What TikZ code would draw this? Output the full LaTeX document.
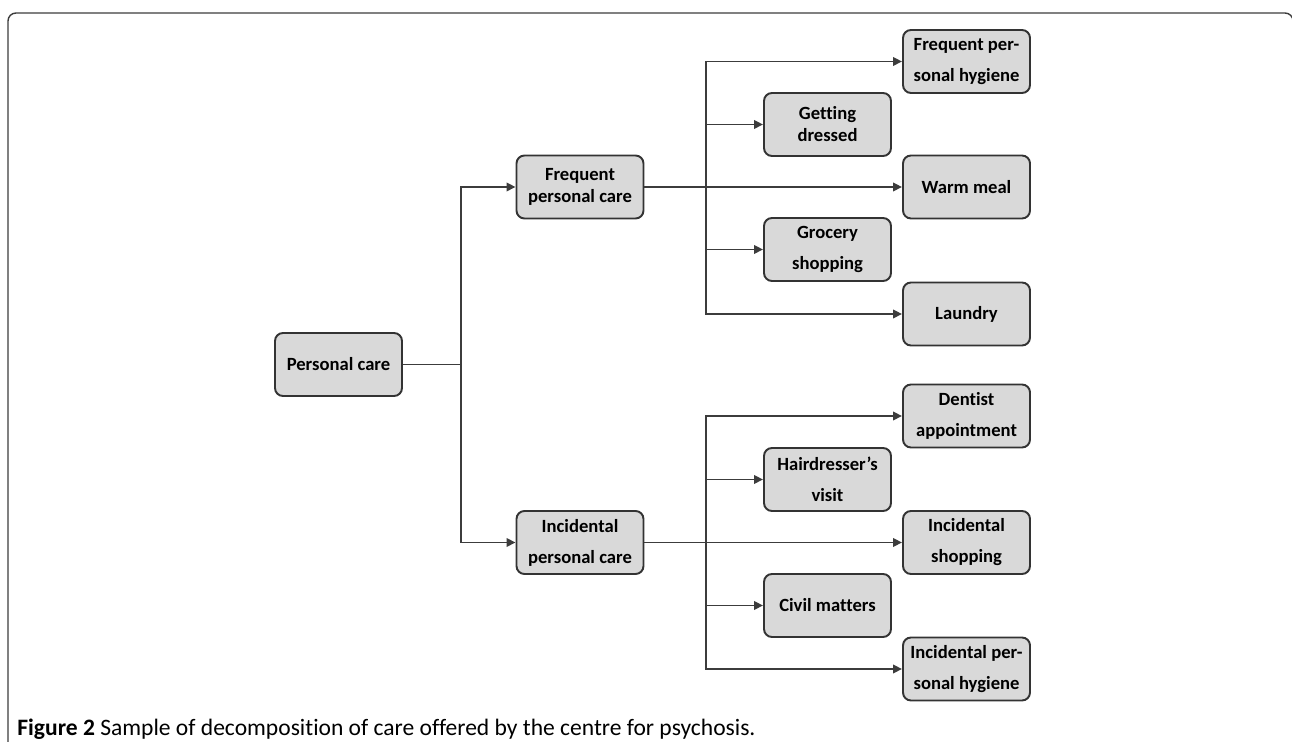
\documentclass[tikz,border=0pt]{standalone}
\usepackage{fontspec}
\setmainfont{Carlito}[Ligatures=NoCommon]
\usepackage{tikz}
\usetikzlibrary{arrows.meta}
\usepackage{color}
\definecolor{boxfill}{HTML}{D9D9D9}
\definecolor{boxline}{HTML}{333333}
\definecolor{linkcolor}{HTML}{3C3C3C}

\begin{document}
\begin{tikzpicture}[
  box/.style={draw=boxline, fill=boxfill, line width=1.1pt, rounded corners=0.16cm,
    minimum width=2.54cm, minimum height=1.26cm, inner sep=0pt, align=center,
    font=\bfseries\fontsize{10.6}{17.6}\selectfont},
  tight/.style={font=\bfseries\fontsize{10.6}{12.5}\selectfont},
  link/.style={line width=1.05pt, color=linkcolor, -{Triangle[length=0.18cm, width=0.17cm]}}
]
\useasboundingbox (0, 0) rectangle (25.84, 14.84);

% frame
\draw [line width=0.8pt, color=linkcolor, rounded corners=0.16cm] (0.16, -0.5) -- (0.16, 14.58) -- (25.86, 14.58) -- (25.86, 0);

% root
\node [box] (pc) at (6.77, 7.55) {Personal care};
\node [box, tight] (fpc) at (11.60, 11.10) {Frequent\\personal care};
\node [box] (ipc) at (11.60, 3.99) {Incidental\\personal care};
\draw [link] (pc.east) -- ++(1.16, 0) |- (fpc.west);
\draw [link] (pc.east) -- ++(1.16, 0) |- (ipc.west);

% frequent care
\node [box] (fph) at (19.33, 13.61) {Frequent per-\\sonal hygiene};
\node [box, tight] (gd) at (16.55, 12.35) {Getting\\dressed};
\node [box] (wm) at (19.33, 11.10) {Warm meal};
\node [box] (gs) at (16.55, 9.85) {Grocery\\shopping};
\node [box] (la) at (19.33, 8.56) {Laundry};
\draw [link] (fpc.east) -- (wm.west);
\draw [link] (fpc.east) -- ++(1.23, 0) |- (fph.west);
\draw [link] (fpc.east) -- ++(1.23, 0) |- (gd.west);
\draw [link] (fpc.east) -- ++(1.23, 0) |- (gs.west);
\draw [link] (fpc.east) -- ++(1.23, 0) |- (la.west);

% incidental care
\node [box] (da) at (19.33, 6.52) {Dentist\\appointment};
\node [box] (hv) at (16.55, 5.25) {Hairdresser’s\\visit};
\node [box] (is) at (19.33, 3.99) {Incidental\\shopping};
\node [box] (cm) at (16.55, 2.73) {Civil matters};
\node [box] (iph) at (19.33, 1.46) {Incidental per-\\sonal hygiene};
\draw [link] (ipc.east) -- (is.west);
\draw [link] (ipc.east) -- ++(1.23, 0) |- (da.west);
\draw [link] (ipc.east) -- ++(1.23, 0) |- (hv.west);
\draw [link] (ipc.east) -- ++(1.23, 0) |- (cm.west);
\draw [link] (ipc.east) -- ++(1.23, 0) |- (iph.west);

% caption
\node [anchor=west, inner sep=0pt, font=\fontsize{13.4}{15}\selectfont] (cap) at (0.34, 0.26) {\textbf{Figure 2} Sample of decomposition of care offered by the centre for psychosis.};

\end{tikzpicture}
\end{document}
